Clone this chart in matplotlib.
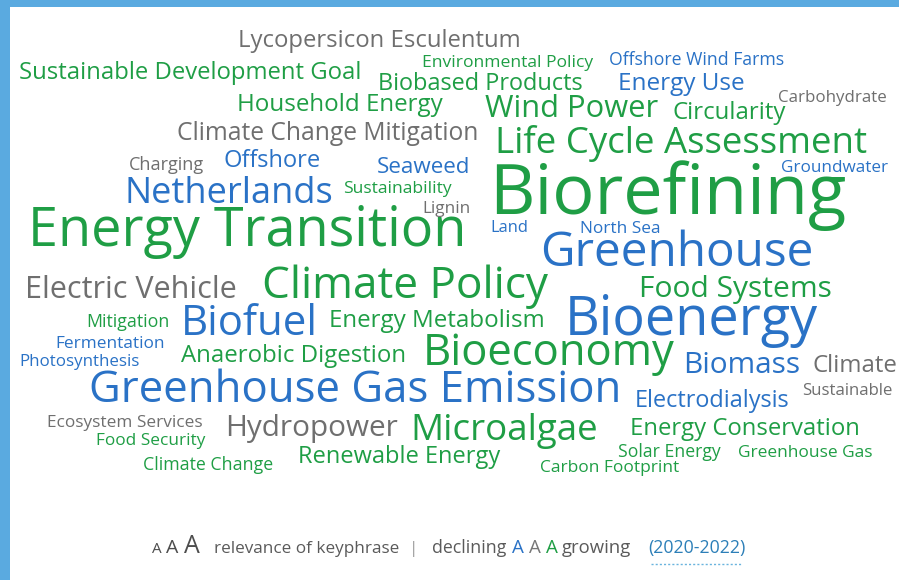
import matplotlib
matplotlib.use("Agg")
import matplotlib.pyplot as plt
from matplotlib.patches import Rectangle

# ---------------- data ----------------
keyphrases = [
    "Lycopersicon Esculentum", "Sustainable Development Goal", "Environmental Policy", "Offshore Wind Farms",
    "Biobased Products", "Energy Use", "Household Energy", "Wind Power", "Circularity", "Carbohydrate",
    "Climate Change Mitigation", "Life Cycle Assessment", "Charging", "Offshore", "Seaweed", "Groundwater",
    "Netherlands", "Sustainability", "Lignin", "Biorefining", "Energy Transition", "Land", "North Sea",
    "Greenhouse", "Electric Vehicle", "Climate Policy", "Food Systems", "Mitigation", "Biofuel",
    "Energy Metabolism", "Bioenergy", "Fermentation", "Photosynthesis", "Anaerobic Digestion", "Bioeconomy",
    "Biomass", "Climate", "Greenhouse Gas Emission", "Sustainable", "Electrodialysis", "Ecosystem Services",
    "Hydropower", "Microalgae", "Energy Conservation", "Food Security", "Solar Energy", "Greenhouse Gas",
    "Renewable Energy", "Climate Change", "Carbon Footprint",
]

# relevance of keyphrase (relative units, shown as text size)
relevance = [
    17.2, 17.2, 12.6, 12.7,
    16.9, 17.5, 17.4, 22.2, 17.3, 12.2,
    17.7, 26.4, 13.1, 17.0, 16.1, 12.3,
    26.0, 12.6, 12.3, 50.7, 38.8, 11.9, 12.4,
    34.3, 22.0, 31.8, 21.6, 12.8, 30.2,
    17.4, 38.8, 12.4, 12.2, 17.3, 31.4,
    21.4, 17.3, 31.5, 12.1, 16.9, 12.4,
    21.4, 26.5, 17.2, 12.4, 12.7, 12.5,
    17.0, 12.8, 12.5,
]

# trend 2020-2022: "up" = growing, "down" = declining, "flat" = stable
trend = [
    "flat", "up", "up", "down",
    "up", "down", "up", "up", "up", "flat",
    "flat", "up", "flat", "down", "down", "down",
    "down", "up", "flat", "up", "up", "down", "down",
    "down", "flat", "up", "up", "up", "down",
    "up", "down", "down", "down", "up", "up",
    "down", "flat", "down", "flat", "down", "flat",
    "flat", "up", "up", "up", "up", "up",
    "up", "up", "up",
]

# ---------------- layout (cloud placement) ----------------
x_center = [
    379, 190.5, 507.5, 696.5,
    480.5, 681.5, 339.5, 571.5, 729, 832.5,
    328, 681.5, 166, 272.5, 423.5, 835,
    229, 397.5, 446, 667.5, 247.5, 509, 620,
    676.5, 130.5, 404.5, 735.5, 128, 249.5,
    437, 691, 110.5, 80, 293.5, 548.5,
    741.5, 854.5, 355, 847.5, 712.5, 124.5,
    312, 504, 745, 150.5, 669, 805,
    399, 208, 609.5,
]
baseline = [
    47, 79, 67, 65,
    90, 90, 111, 117, 119, 102,
    140, 153, 170, 167, 173, 172,
    203, 193, 213, 214, 246, 232, 233,
    266, 298, 298, 297, 327, 335,
    327, 335, 348, 366, 362, 365,
    373, 372, 402, 395, 407, 427,
    436, 440, 435, 445, 457, 457,
    463, 470, 472,
]

colors = {"up": "#1f9e45", "down": "#2a72c6", "flat": "#6f6f6f"}
FONT = "Open Sans"

fig = plt.figure(figsize=(8.99, 5.8), dpi=100)
fig.patch.set_facecolor("white")
ax = fig.add_axes([0, 0, 1, 1])
ax.set_xlim(0, 899)
ax.set_ylim(580, 0)
ax.axis("off")

# frame bands
frame = "#5aaae0"
ax.add_patch(Rectangle((0, 0), 899, 7, color=frame, lw=0))
ax.add_patch(Rectangle((0, 0), 10, 580, color=frame, lw=0))

for w, r, t, x, y in zip(keyphrases, relevance, trend, x_center, baseline):
    ax.text(x, y, w, fontsize=r, color=colors[t], family=FONT,
            ha="center", va="baseline")

# ---------------- legend ----------------
ly = 553
dark = "#4d4d4d"
ax.text(152, ly, "A", fontsize=11, color=dark, family=FONT, va="baseline")
ax.text(166, ly, "A", fontsize=14, color=dark, family=FONT, va="baseline")
ax.text(184, ly, "A", fontsize=18, color=dark, family=FONT, va="baseline")
ax.text(214, ly, "relevance of keyphrase", fontsize=12.3, color="#5a5a5a", family=FONT, va="baseline")
ax.text(414, ly, "|", fontsize=12.3, color="#9a9a9a", family=FONT, va="baseline", ha="center")
ax.text(432, ly, "declining", fontsize=12.8, color="#5a5a5a", family=FONT, va="baseline")
ax.text(512, ly, "A", fontsize=13.5, color=colors["down"], family=FONT, va="baseline")
ax.text(529, ly, "A", fontsize=13.5, color="#777777", family=FONT, va="baseline")
ax.text(546, ly, "A", fontsize=13.5, color=colors["up"], family=FONT, va="baseline")
ax.text(562, ly, "growing", fontsize=13.3, color="#5a5a5a", family=FONT, va="baseline")
ax.text(648, ly, "(2020-2022)", fontsize=12.8, color="#2c7fb8", family=FONT, va="baseline")
ax.plot([651, 742], [564, 564], color="#6ab4de", lw=1.0, ls=(0, (1.5, 1.5)))

fig.savefig("out.png", dpi=100, facecolor="white")
